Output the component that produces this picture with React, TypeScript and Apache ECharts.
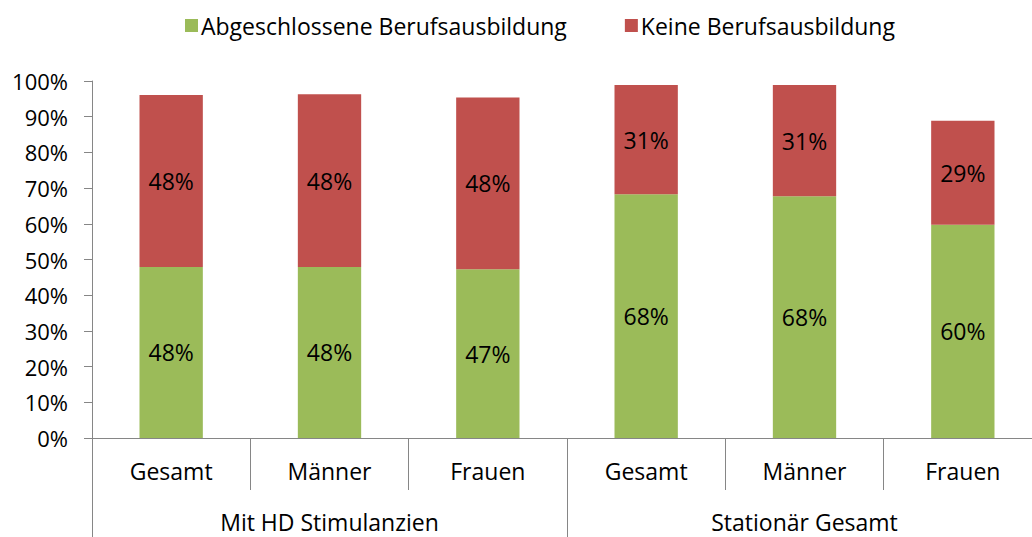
import React, { useEffect, useRef } from "react";
import * as echarts from "echarts";

const categories = ["Gesamt", "Männer", "Frauen", "Gesamt", "Männer", "Frauen"];
const groups = ["Mit HD Stimulanzien", "Stationär Gesamt"];
const abgeschlossen = [47.9, 47.9, 47.3, 68.3, 67.7, 59.7];
const keine = [48.2, 48.4, 48.1, 30.6, 31.2, 29.2];
const yTicks = [0, 10, 20, 30, 40, 50, 60, 70, 80, 90, 100];

const FONT = "Open Sans";

export default function App() {
  const ref = useRef<HTMLDivElement>(null);
  useEffect(() => {
    document.body.style.margin = "0";
    const chart = echarts.init(ref.current!, null, { renderer: "svg" });
    const labelStyle = {
      show: true,
      position: "inside" as const,
      color: "#000",
      fontFamily: FONT,
      fontSize: 23,
      formatter: (p: any) => Math.round(p.value) + "%",
    };
    chart.setOption({
      animation: false,
      backgroundColor: "#fff",
      textStyle: { fontFamily: FONT },
      legend: {
        top: 9,
        left: 180,
        itemWidth: 13,
        itemHeight: 13,
        itemGap: 58,
        icon: "rect",
        textStyle: { fontFamily: FONT, fontSize: 23, color: "#000", padding: [0, 0, 0, -2] },
        data: ["Abgeschlossene Berufsausbildung", "Keine Berufsausbildung"],
      },
      grid: { left: 92, top: 81, bottom: 99, right: 18 },
      xAxis: [
        {
          type: "category",
          data: categories,
          position: "bottom",
          axisLine: { lineStyle: { color: "#868686" } },
          axisTick: { show: true, length: 52, lineStyle: { color: "#868686" } },
          axisLabel: { interval: 0, margin: 21, color: "#000", fontFamily: FONT, fontSize: 23 },
        },
        {
          type: "category",
          data: groups,
          position: "bottom",
          axisLine: { show: false },
          axisTick: { show: true, length: 100, lineStyle: { color: "#868686" } },
          axisLabel: { interval: 0, margin: 72, color: "#000", fontFamily: FONT, fontSize: 23 },
        },
      ],
      yAxis: {
        type: "value",
        min: 0,
        max: 100,
        interval: 10,
        splitLine: { show: false },
        axisLine: { show: true, lineStyle: { color: "#868686" } },
        axisTick: { show: true, length: 8, lineStyle: { color: "#868686" } },
        axisLabel: {
          margin: 24,
          color: "#000",
          fontFamily: FONT,
          fontSize: 22,
          formatter: (v: number) => (yTicks.includes(v) ? v + "%" : ""),
        },
      },
      series: [
        {
          name: "Abgeschlossene Berufsausbildung",
          type: "bar",
          stack: "total",
          xAxisIndex: 0,
          barWidth: "40%",
          itemStyle: { color: "#9BBB59" },
          label: labelStyle,
          data: abgeschlossen,
        },
        {
          name: "Keine Berufsausbildung",
          type: "bar",
          stack: "total",
          xAxisIndex: 0,
          barWidth: "40%",
          itemStyle: { color: "#C0504D" },
          label: labelStyle,
          data: keine,
        },
      ],
    });
    return () => chart.dispose();
  }, []);
  return (
    <div style={{ width: 1032, height: 537, overflow: "hidden" }}>
      <div ref={ref} style={{ width: 1060, height: 537 }} />
    </div>
  );
}
